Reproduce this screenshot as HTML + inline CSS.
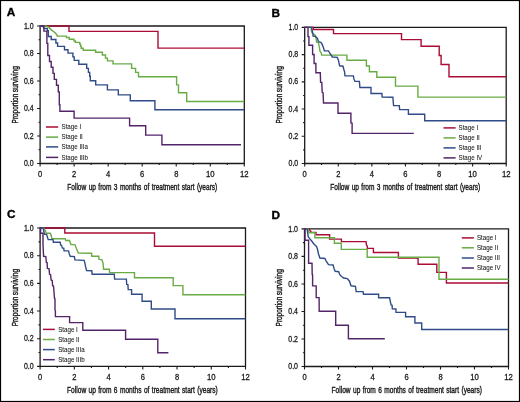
<!DOCTYPE html>
<html><head><meta charset="utf-8"><style>
html,body{margin:0;padding:0;background:#fff;}
body{width:520px;height:402px;overflow:hidden;}
svg{display:block;will-change:transform;}
text{font-family:"Liberation Sans", sans-serif;fill:#1a1a1a;}
.t{font-size:8.2px;stroke:#1a1a1a;stroke-width:0.28px;}
.ax{font-size:9.2px;stroke:#1a1a1a;stroke-width:0.4px;word-spacing:0.8px;}
.lg{font-size:7.2px;stroke:#1a1a1a;stroke-width:0.08px;}
.lab{font-size:11.8px;font-weight:bold;fill:#000;stroke:#000;stroke-width:0.35px;}
</style></head><body>
<svg width="520" height="402" viewBox="0 0 520 402">
<rect x="0.5" y="0.5" width="519" height="401" fill="#fff" stroke="#000" stroke-width="1.2"/>
<path d="M40.1 26H244.3V163.5H40.1Z" fill="none" stroke="#1a1a1a" stroke-width="1.3"/>
<path d="M37.1 163.5H40.1M38.5 149.75H40.1M37.1 136H40.1M38.5 122.25H40.1M37.1 108.5H40.1M38.5 94.75H40.1M37.1 81H40.1M38.5 67.25H40.1M37.1 53.5H40.1M38.5 39.75H40.1M37.1 26H40.1M40.1 163.5V166.5M57.12 163.5V165M74.13 163.5V166.5M91.15 163.5V165M108.17 163.5V166.5M125.18 163.5V165M142.2 163.5V166.5M159.22 163.5V165M176.23 163.5V166.5M193.25 163.5V165M210.27 163.5V166.5M227.28 163.5V165M244.3 163.5V166.5" stroke="#1a1a1a" stroke-width="1.1" fill="none"/>
<text x="33.6" y="166.1" text-anchor="end" textLength="9.7" lengthAdjust="spacingAndGlyphs" class="t">0.0</text>
<text x="33.6" y="138.6" text-anchor="end" textLength="9.7" lengthAdjust="spacingAndGlyphs" class="t">0.2</text>
<text x="33.6" y="111.1" text-anchor="end" textLength="9.7" lengthAdjust="spacingAndGlyphs" class="t">0.4</text>
<text x="33.6" y="83.6" text-anchor="end" textLength="9.7" lengthAdjust="spacingAndGlyphs" class="t">0.6</text>
<text x="33.6" y="56.1" text-anchor="end" textLength="9.7" lengthAdjust="spacingAndGlyphs" class="t">0.8</text>
<text x="33.6" y="28.6" text-anchor="end" textLength="9.7" lengthAdjust="spacingAndGlyphs" class="t">1.0</text>
<text x="38" y="176.8" textLength="4.2" lengthAdjust="spacingAndGlyphs" class="t">0</text>
<text x="72.03" y="176.8" textLength="4.2" lengthAdjust="spacingAndGlyphs" class="t">2</text>
<text x="106.07" y="176.8" textLength="4.2" lengthAdjust="spacingAndGlyphs" class="t">4</text>
<text x="140.1" y="176.8" textLength="4.2" lengthAdjust="spacingAndGlyphs" class="t">6</text>
<text x="174.13" y="176.8" textLength="4.2" lengthAdjust="spacingAndGlyphs" class="t">8</text>
<text x="205.97" y="176.8" textLength="8.6" lengthAdjust="spacingAndGlyphs" class="t">10</text>
<text x="240" y="176.8" textLength="8.6" lengthAdjust="spacingAndGlyphs" class="t">12</text>
<text transform="translate(17.6 123.4) rotate(-90)" x="0" y="0" textLength="29.6" lengthAdjust="spacingAndGlyphs" class="ax">Proportion</text>
<text transform="translate(17.6 92.3) rotate(-90)" x="0" y="0" textLength="26.3" lengthAdjust="spacingAndGlyphs" class="ax">surviving</text>
<text x="67.3" y="189.6" textLength="150" lengthAdjust="spacingAndGlyphs" class="ax">Follow up from 3 months of treatment start (years)</text>
<text x="6.8" y="15.5" class="lab">A</text>
<path d="M46 127H58.2" stroke="#aa0c35" stroke-width="1.5"/>
<text x="61.5" y="129.3" textLength="19.62" lengthAdjust="spacingAndGlyphs" class="lg">Stage I</text>
<path d="M46 137.1H58.2" stroke="#69ab44" stroke-width="1.5"/>
<text x="61.5" y="139.4" textLength="21.34" lengthAdjust="spacingAndGlyphs" class="lg">Stage II</text>
<path d="M46 146.9H58.2" stroke="#2f4c88" stroke-width="1.5"/>
<text x="61.5" y="149.2" textLength="26.5" lengthAdjust="spacingAndGlyphs" class="lg">Stage IIIa</text>
<path d="M46 157.4H58.2" stroke="#53246a" stroke-width="1.5"/>
<text x="61.5" y="159.7" textLength="26.5" lengthAdjust="spacingAndGlyphs" class="lg">Stage IIIb</text>
<path d="M40.3 26 69 26 69 31.4 158 31.4 158 48.1 244.3 48.1" stroke="#aa0c35" stroke-width="1.4" fill="none" stroke-linejoin="miter"/>
<path d="M40.3 26 45.8 26 48.7 27.2 51.5 30.1 53.8 31.8 55.6 33.3 57.3 35.6 57.3 36.1 66.4 36.1 66.4 37.5 69.3 37.5 69.3 39.2 74 39.2 74 41 75.4 41 75.4 42.4 79.7 42.4 79.7 44.1 80.6 44.1 80.6 46.4 81.2 46.4 81.2 48.3 83.2 48.3 83.2 50.3 95.6 50.3 95.6 52.2 102.4 52.2 102.4 55 105.5 55 105.5 58.1 107.4 58.1 107.4 60.9 113 60.9 113 63.9 131.6 63.9 131.6 68.4 135.6 68.4 135.6 72.4 138.5 72.4 138.5 76.8 176.6 76.8 176.6 84.9 178.5 84.9 178.5 92.8 186.7 92.8 186.7 101.5 244.3 101.5" stroke="#69ab44" stroke-width="1.4" fill="none" stroke-linejoin="miter"/>
<path d="M40.3 26 42.6 26 43.5 27.5 44 28.5 47.4 28.5 47.4 30.7 48.3 30.7 48.3 36.5 51.2 36.5 51.2 39.5 55.9 39.5 55.9 43 57.6 43 57.6 46.4 64.5 46.4 64.5 49.8 68 49.8 68 53.1 72.9 53.1 72.9 56.9 74.2 56.9 74.2 60.4 78.8 60.4 78.8 64.3 86.7 64.3 86.7 68.4 88.4 68.4 88.4 72.4 89.7 72.4 89.7 76.3 90.3 76.3 90.3 80.8 95.7 80.8 95.7 84.9 107.4 84.9 107.4 89.9 118.3 89.9 118.3 94.9 130.3 94.9 130.3 100.7 154.9 100.7 154.9 109.8 244.3 109.8" stroke="#2f4c88" stroke-width="1.4" fill="none" stroke-linejoin="miter"/>
<path d="M40.3 26 43.9 26 43.9 31.1 46.9 31.1 46.9 43.4 47.8 43.4 47.8 55.5 49.5 55.5 49.5 61.5 51.2 61.5 51.2 67.2 53 67.2 53 73.4 54.3 73.4 54.3 79.4 56.5 79.4 56.5 85.3 58.3 85.3 58.3 91.9 59.3 91.9 59.3 104.7 59.9 104.7 59.9 111.3 74.1 111.3 74.1 118.1 129.6 118.1 129.6 125.7 145.7 125.7 145.7 135.1 161.9 135.1 161.9 144.7 241 144.7" stroke="#53246a" stroke-width="1.4" fill="none" stroke-linejoin="miter"/>
<path d="M304.7 27.4H506.2V163.5H304.7Z" fill="none" stroke="#1a1a1a" stroke-width="1.3"/>
<path d="M301.7 163.5H304.7M303.1 149.89H304.7M301.7 136.28H304.7M303.1 122.67H304.7M301.7 109.06H304.7M303.1 95.45H304.7M301.7 81.84H304.7M303.1 68.23H304.7M301.7 54.62H304.7M303.1 41.01H304.7M301.7 27.4H304.7M304.7 163.5V166.5M321.49 163.5V165M338.28 163.5V166.5M355.07 163.5V165M371.87 163.5V166.5M388.66 163.5V165M405.45 163.5V166.5M422.24 163.5V165M439.03 163.5V166.5M455.82 163.5V165M472.62 163.5V166.5M489.41 163.5V165M506.2 163.5V166.5" stroke="#1a1a1a" stroke-width="1.1" fill="none"/>
<text x="298.2" y="166.1" text-anchor="end" textLength="9.7" lengthAdjust="spacingAndGlyphs" class="t">0.0</text>
<text x="298.2" y="138.88" text-anchor="end" textLength="9.7" lengthAdjust="spacingAndGlyphs" class="t">0.2</text>
<text x="298.2" y="111.66" text-anchor="end" textLength="9.7" lengthAdjust="spacingAndGlyphs" class="t">0.4</text>
<text x="298.2" y="84.44" text-anchor="end" textLength="9.7" lengthAdjust="spacingAndGlyphs" class="t">0.6</text>
<text x="298.2" y="57.22" text-anchor="end" textLength="9.7" lengthAdjust="spacingAndGlyphs" class="t">0.8</text>
<text x="298.2" y="30" text-anchor="end" textLength="9.7" lengthAdjust="spacingAndGlyphs" class="t">1.0</text>
<text x="302.6" y="176.8" textLength="4.2" lengthAdjust="spacingAndGlyphs" class="t">0</text>
<text x="336.18" y="176.8" textLength="4.2" lengthAdjust="spacingAndGlyphs" class="t">2</text>
<text x="369.77" y="176.8" textLength="4.2" lengthAdjust="spacingAndGlyphs" class="t">4</text>
<text x="403.35" y="176.8" textLength="4.2" lengthAdjust="spacingAndGlyphs" class="t">6</text>
<text x="436.93" y="176.8" textLength="4.2" lengthAdjust="spacingAndGlyphs" class="t">8</text>
<text x="468.32" y="176.8" textLength="8.6" lengthAdjust="spacingAndGlyphs" class="t">10</text>
<text x="501.9" y="176.8" textLength="8.6" lengthAdjust="spacingAndGlyphs" class="t">12</text>
<text transform="translate(282.2 123.4) rotate(-90)" x="0" y="0" textLength="29.6" lengthAdjust="spacingAndGlyphs" class="ax">Proportion</text>
<text transform="translate(282.2 92.3) rotate(-90)" x="0" y="0" textLength="26.3" lengthAdjust="spacingAndGlyphs" class="ax">surviving</text>
<text x="330.3" y="189.6" textLength="150" lengthAdjust="spacingAndGlyphs" class="ax">Follow up from 3 months of treatment start (years)</text>
<text x="271.6" y="16.7" class="lab">B</text>
<path d="M443.5 127.9H455.6" stroke="#aa0c35" stroke-width="1.5"/>
<text x="458.5" y="130.2" textLength="19.62" lengthAdjust="spacingAndGlyphs" class="lg">Stage I</text>
<path d="M443.5 137.9H455.6" stroke="#69ab44" stroke-width="1.5"/>
<text x="458.5" y="140.2" textLength="21.34" lengthAdjust="spacingAndGlyphs" class="lg">Stage II</text>
<path d="M443.5 147.9H455.6" stroke="#2f4c88" stroke-width="1.5"/>
<text x="458.5" y="150.2" textLength="23.06" lengthAdjust="spacingAndGlyphs" class="lg">Stage III</text>
<path d="M443.5 157.9H455.6" stroke="#53246a" stroke-width="1.5"/>
<text x="458.5" y="160.2" textLength="23.75" lengthAdjust="spacingAndGlyphs" class="lg">Stage IV</text>
<path d="M304.5 27.4 313.3 27.4 313.3 29.5 333.5 29.5 333.5 33.6 401.5 33.6 401.5 39.6 421.1 39.6 421.1 46.3 439.2 46.3 439.2 55.5 441.1 55.5 441.1 64.5 449 64.5 449 76.7 506.2 76.7" stroke="#aa0c35" stroke-width="1.4" fill="none" stroke-linejoin="miter"/>
<path d="M304.5 27.4 311 27.4 311.6 31.8 312.2 33 314.3 34.5 315.1 35.1 315.7 37.4 316.3 39.5 316.6 42.2 318.4 42.2 318.9 45 319.6 48.7 320 51.3 321.3 53.1 321.7 55.1 346.9 55.1 346.9 60.3 366.4 60.3 366.4 66 369.4 66 369.4 71.7 376.8 71.7 376.8 77.2 395.5 77.2 395.5 86.1 417.9 86.1 417.9 97.1 506.2 97.1" stroke="#69ab44" stroke-width="1.4" fill="none" stroke-linejoin="miter"/>
<path d="M304.5 27.4 311.6 27.4 312.2 30.6 312.8 33 313.1 36 315.7 36.3 316.3 37.4 317.5 38.3 318.1 40.7 319.3 41.9 320.9 42.4 322.2 44.4 323.5 47.8 324.4 50.9 328.5 50.9 330 53.5 332.3 57 337.3 57.3 338.5 60.4 339.6 65.8 343 66.2 344 70 344.5 71.4 345 75.9 353.4 75.9 353.9 78.9 354.9 81.4 359.4 81.4 359.9 87.5 371 87.5 371 93.5 381.9 93.5 382.2 97.1 392.9 97.3 393.2 101.7 393.6 105.6 399.3 105.6 399.6 109.6 408.4 109.6 408.4 114.3 424.7 114.3 424.7 120.8 506.2 120.8" stroke="#2f4c88" stroke-width="1.4" fill="none" stroke-linejoin="miter"/>
<path d="M304.5 27.4 308 27.4 308 36.6 308.9 36.6 308.9 45.3 312.6 45.3 312.6 54.5 314.1 54.5 314.1 63.5 315.9 63.5 315.9 72.7 320.3 72.7 320.6 82.4 321.8 82.4 322.2 92.4 323.1 93 323.5 103 338 103 338 113.3 350.9 113.3 350.9 123 352.1 123.2 352.1 133.4 413.8 133.4" stroke="#53246a" stroke-width="1.4" fill="none" stroke-linejoin="miter"/>
<path d="M40.1 228H245.5V366.4H40.1Z" fill="none" stroke="#1a1a1a" stroke-width="1.3"/>
<path d="M37.1 366.4H40.1M38.5 352.56H40.1M37.1 338.72H40.1M38.5 324.88H40.1M37.1 311.04H40.1M38.5 297.2H40.1M37.1 283.36H40.1M38.5 269.52H40.1M37.1 255.68H40.1M38.5 241.84H40.1M37.1 228H40.1M40.1 366.4V369.4M57.22 366.4V367.9M74.33 366.4V369.4M91.45 366.4V367.9M108.57 366.4V369.4M125.68 366.4V367.9M142.8 366.4V369.4M159.92 366.4V367.9M177.03 366.4V369.4M194.15 366.4V367.9M211.27 366.4V369.4M228.38 366.4V367.9M245.5 366.4V369.4" stroke="#1a1a1a" stroke-width="1.1" fill="none"/>
<text x="33.6" y="369" text-anchor="end" textLength="9.7" lengthAdjust="spacingAndGlyphs" class="t">0.0</text>
<text x="33.6" y="341.32" text-anchor="end" textLength="9.7" lengthAdjust="spacingAndGlyphs" class="t">0.2</text>
<text x="33.6" y="313.64" text-anchor="end" textLength="9.7" lengthAdjust="spacingAndGlyphs" class="t">0.4</text>
<text x="33.6" y="285.96" text-anchor="end" textLength="9.7" lengthAdjust="spacingAndGlyphs" class="t">0.6</text>
<text x="33.6" y="258.28" text-anchor="end" textLength="9.7" lengthAdjust="spacingAndGlyphs" class="t">0.8</text>
<text x="33.6" y="230.6" text-anchor="end" textLength="9.7" lengthAdjust="spacingAndGlyphs" class="t">1.0</text>
<text x="38" y="379.7" textLength="4.2" lengthAdjust="spacingAndGlyphs" class="t">0</text>
<text x="72.23" y="379.7" textLength="4.2" lengthAdjust="spacingAndGlyphs" class="t">2</text>
<text x="106.47" y="379.7" textLength="4.2" lengthAdjust="spacingAndGlyphs" class="t">4</text>
<text x="140.7" y="379.7" textLength="4.2" lengthAdjust="spacingAndGlyphs" class="t">6</text>
<text x="174.93" y="379.7" textLength="4.2" lengthAdjust="spacingAndGlyphs" class="t">8</text>
<text x="206.97" y="379.7" textLength="8.6" lengthAdjust="spacingAndGlyphs" class="t">10</text>
<text x="241.2" y="379.7" textLength="8.6" lengthAdjust="spacingAndGlyphs" class="t">12</text>
<text transform="translate(17.6 326.3) rotate(-90)" x="0" y="0" textLength="29.6" lengthAdjust="spacingAndGlyphs" class="ax">Proportion</text>
<text transform="translate(17.6 295.2) rotate(-90)" x="0" y="0" textLength="26.3" lengthAdjust="spacingAndGlyphs" class="ax">surviving</text>
<text x="67.1" y="392.9" textLength="150.7" lengthAdjust="spacingAndGlyphs" class="ax">Follow up from 6 months of treatment start (years)</text>
<text x="7" y="217.6" class="lab">C</text>
<path d="M43 329.4H54.8" stroke="#aa0c35" stroke-width="1.5"/>
<text x="58.2" y="331.7" textLength="19.62" lengthAdjust="spacingAndGlyphs" class="lg">Stage I</text>
<path d="M43 339.5H54.8" stroke="#69ab44" stroke-width="1.5"/>
<text x="58.2" y="341.8" textLength="21.34" lengthAdjust="spacingAndGlyphs" class="lg">Stage II</text>
<path d="M43 349.6H54.8" stroke="#2f4c88" stroke-width="1.5"/>
<text x="58.2" y="351.9" textLength="26.5" lengthAdjust="spacingAndGlyphs" class="lg">Stage IIIa</text>
<path d="M43 359.7H54.8" stroke="#53246a" stroke-width="1.5"/>
<text x="58.2" y="362" textLength="26.5" lengthAdjust="spacingAndGlyphs" class="lg">Stage IIIb</text>
<path d="M40.2 228 64.8 228 64.8 233 154.5 233 154.5 246.3 245.4 246.3" stroke="#aa0c35" stroke-width="1.4" fill="none" stroke-linejoin="miter"/>
<path d="M40.2 228 43.6 228 45.5 231.1 46.2 233.2 50.3 233.2 51.4 235.9 51.8 238.8 65.2 238.8 65.8 240.5 69.5 240.5 71 244.5 74.9 244.6 76.4 248.4 78.4 253.1 91.6 253.3 91.8 256.2 98.7 256.2 99.1 259.4 101.8 259.6 103 263 103.6 269.2 109.4 269.2 109.6 272.6 134.5 272.6 134.5 277.7 173.2 277.7 173.2 285.6 182.9 285.6 182.9 294.8 245.4 294.8" stroke="#69ab44" stroke-width="1.4" fill="none" stroke-linejoin="miter"/>
<path d="M40.2 228 43.2 228 43.8 231.5 44.5 234.4 46.6 234.4 47.5 237.4 48.2 239.6 53 239.6 53.4 242.2 60.2 242.2 60.6 245 61.6 245.4 62.3 247.9 63.7 248.2 64.1 250.9 68.5 250.9 69.3 253.9 70.2 256.3 74.4 256.6 74.9 259.9 84.2 260.4 85 263.6 85.6 266.7 86.6 270.6 91.8 270.7 92.1 274.2 114.3 274.2 114.6 279.1 126.4 279.1 126.7 284.4 127.9 284.6 128.2 289.6 131.6 289.6 131.6 294.3 142.1 294.3 142.1 301.2 151.3 301.2 151.3 309 175 309 175 318.7 245.4 318.7" stroke="#2f4c88" stroke-width="1.4" fill="none" stroke-linejoin="miter"/>
<path d="M40.2 228 40.6 228 40.6 233.3 43 233.3 43 245 43.6 256.3 45.8 256.6 46.4 262.5 47.1 262.6 47.4 268.4 49 268.6 49.6 274.3 50.5 274.6 51.2 280.1 52.2 280.3 52.6 285.7 53.5 286 54 292 54.5 298.5 55 298.9 55 310 55.4 310.8 55.4 316.6 69.6 316.6 69.6 322.6 82.8 322.6 82.8 330.2 125.6 330.2 125.6 339.2 157.8 339.2 157.8 352.7 168.4 352.7" stroke="#53246a" stroke-width="1.4" fill="none" stroke-linejoin="miter"/>
<path d="M304.5 228.9H508.5V366.5H304.5Z" fill="none" stroke="#1a1a1a" stroke-width="1.3"/>
<path d="M301.5 366.5H304.5M302.9 352.74H304.5M301.5 338.98H304.5M302.9 325.22H304.5M301.5 311.46H304.5M302.9 297.7H304.5M301.5 283.94H304.5M302.9 270.18H304.5M301.5 256.42H304.5M302.9 242.66H304.5M301.5 228.9H304.5M304.5 366.5V369.5M321.5 366.5V368M338.5 366.5V369.5M355.5 366.5V368M372.5 366.5V369.5M389.5 366.5V368M406.5 366.5V369.5M423.5 366.5V368M440.5 366.5V369.5M457.5 366.5V368M474.5 366.5V369.5M491.5 366.5V368M508.5 366.5V369.5" stroke="#1a1a1a" stroke-width="1.1" fill="none"/>
<text x="298" y="369.1" text-anchor="end" textLength="9.7" lengthAdjust="spacingAndGlyphs" class="t">0.0</text>
<text x="298" y="341.58" text-anchor="end" textLength="9.7" lengthAdjust="spacingAndGlyphs" class="t">0.2</text>
<text x="298" y="314.06" text-anchor="end" textLength="9.7" lengthAdjust="spacingAndGlyphs" class="t">0.4</text>
<text x="298" y="286.54" text-anchor="end" textLength="9.7" lengthAdjust="spacingAndGlyphs" class="t">0.6</text>
<text x="298" y="259.02" text-anchor="end" textLength="9.7" lengthAdjust="spacingAndGlyphs" class="t">0.8</text>
<text x="298" y="231.5" text-anchor="end" textLength="9.7" lengthAdjust="spacingAndGlyphs" class="t">1.0</text>
<text x="302.4" y="379.8" textLength="4.2" lengthAdjust="spacingAndGlyphs" class="t">0</text>
<text x="336.4" y="379.8" textLength="4.2" lengthAdjust="spacingAndGlyphs" class="t">2</text>
<text x="370.4" y="379.8" textLength="4.2" lengthAdjust="spacingAndGlyphs" class="t">4</text>
<text x="404.4" y="379.8" textLength="4.2" lengthAdjust="spacingAndGlyphs" class="t">6</text>
<text x="438.4" y="379.8" textLength="4.2" lengthAdjust="spacingAndGlyphs" class="t">8</text>
<text x="470.2" y="379.8" textLength="8.6" lengthAdjust="spacingAndGlyphs" class="t">10</text>
<text x="504.2" y="379.8" textLength="8.6" lengthAdjust="spacingAndGlyphs" class="t">12</text>
<text transform="translate(282 326.4) rotate(-90)" x="0" y="0" textLength="29.6" lengthAdjust="spacingAndGlyphs" class="ax">Proportion</text>
<text transform="translate(282 295.3) rotate(-90)" x="0" y="0" textLength="26.3" lengthAdjust="spacingAndGlyphs" class="ax">surviving</text>
<text x="331.6" y="392.9" textLength="150.3" lengthAdjust="spacingAndGlyphs" class="ax">Follow up from 6 months of treatment start (years)</text>
<text x="271.6" y="218.6" class="lab">D</text>
<path d="M461.8 237.9H473.9" stroke="#aa0c35" stroke-width="1.5"/>
<text x="476.9" y="240.2" textLength="19.62" lengthAdjust="spacingAndGlyphs" class="lg">Stage I</text>
<path d="M461.8 247.8H473.9" stroke="#69ab44" stroke-width="1.5"/>
<text x="476.9" y="250.1" textLength="21.34" lengthAdjust="spacingAndGlyphs" class="lg">Stage II</text>
<path d="M461.8 258H473.9" stroke="#2f4c88" stroke-width="1.5"/>
<text x="476.9" y="260.3" textLength="23.06" lengthAdjust="spacingAndGlyphs" class="lg">Stage III</text>
<path d="M461.8 268H473.9" stroke="#53246a" stroke-width="1.5"/>
<text x="476.9" y="270.3" textLength="23.75" lengthAdjust="spacingAndGlyphs" class="lg">Stage IV</text>
<path d="M304.6 228.9 309.1 228.9 309.6 230 310.5 231 311.3 232.4 316 232.4 316 234.7 329.6 234.7 329.6 239.1 341.4 239.1 341.4 241.6 366 241.6 366.5 245.2 367.3 246 367.3 248.4 373.4 248.4 373.4 252.5 398.4 252.5 398.4 258.1 418.1 258.1 418.1 264.3 436.8 264.3 436.8 272.4 446.4 272.4 446.4 283 508.5 283" stroke="#aa0c35" stroke-width="1.4" fill="none" stroke-linejoin="miter"/>
<path d="M304.6 228.9 308 228.9 308.6 230.5 309.1 232.7 314.9 232.7 314.9 237.8 334.4 237.8 334.4 243.3 341.3 243.3 341.3 249.4 367.2 249.4 367.2 257.2 439 257.2 439 279.2 508.5 279.2" stroke="#69ab44" stroke-width="1.4" fill="none" stroke-linejoin="miter"/>
<path d="M304.6 228.9 306.5 228.9 307.2 229.2 307.6 232.5 308.3 236.9 309.5 238.4 311.7 241 313.9 244 315.4 245.5 316.5 246.5 317.3 248.5 318.5 254 319.9 258 324.9 258.5 326.2 261.1 328.5 264.6 333.1 265 334.2 268.9 335.2 271.3 338.7 271.7 339.9 274.9 341.7 276.5 343.6 278 347.3 278.6 349.5 281.2 351 285.8 355.4 286.3 356.2 291.6 363.1 291.6 363.5 294.3 378.6 294.3 378.6 297.7 389.6 297.7 390.4 301.8 391.1 304.9 392.1 305.3 392.3 308.8 395.9 309 396 312.4 405.6 312.4 405.6 316.8 414.9 316.8 414.9 323 421.7 323 421.7 329.5 508.5 329.5" stroke="#2f4c88" stroke-width="1.4" fill="none" stroke-linejoin="miter"/>
<path d="M304.6 228.9 305 228.9 305 240.3 308.6 240.3 308.6 263.2 312 263.2 312.2 274.6 312.6 274.9 312.6 285.8 316.2 285.9 316.2 297.5 319.1 297.6 319.2 311.2 335.7 311.2 335.7 325.2 348.4 325.2 348.4 338.7 384.8 338.7" stroke="#53246a" stroke-width="1.4" fill="none" stroke-linejoin="miter"/>
</svg>
</body></html>
